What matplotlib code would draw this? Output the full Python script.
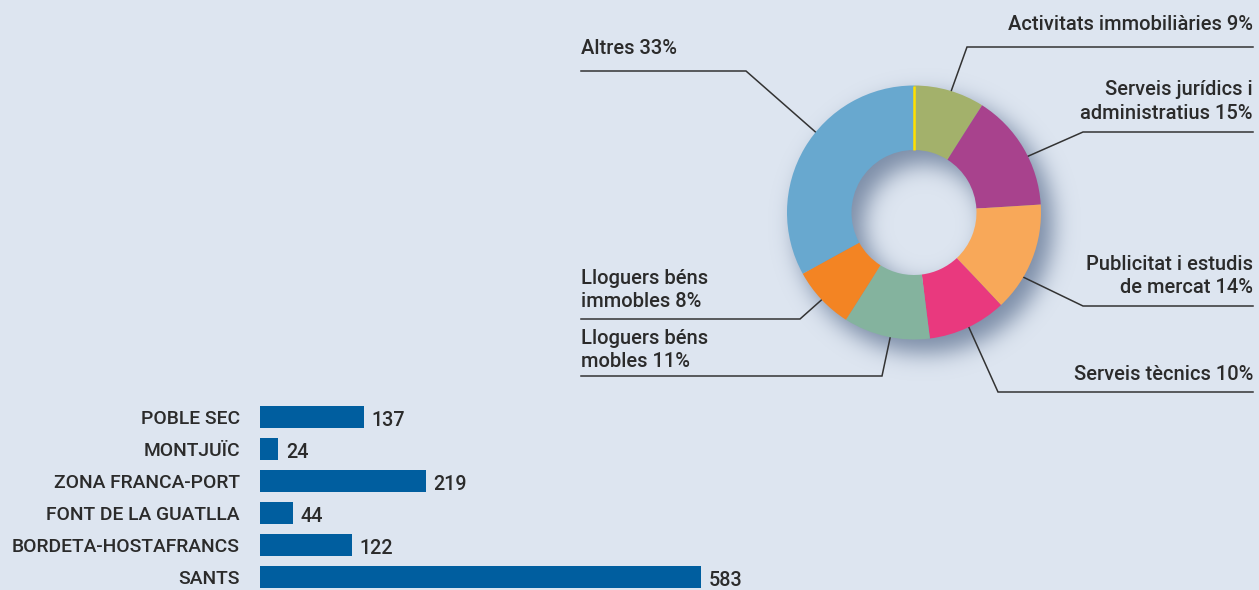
import numpy as np
import matplotlib
matplotlib.use('Agg')
import matplotlib.pyplot as plt

# donut data (clockwise from the top)
sectors = ['Activitats immobiliàries', 'Serveis jurídics i\nadministratius',
           'Publicitat i estudis\nde mercat', 'Serveis tècnics',
           'Lloguers béns\nmobles', 'Lloguers béns\nimmobles', 'Altres']
shares = [9, 15, 14, 10, 11, 8, 33]
sector_colors = ['#A3B16B', '#A8428D', '#F8A859', '#E9397E',
                 '#84B39E', '#F38423', '#68A8CF']

# bar data
barris = ['POBLE SEC', 'MONTJUÏC', 'ZONA FRANCA-PORT', 'FONT DE LA GUATLLA',
          'BORDETA-HOSTAFRANCS', 'SANTS']
counts = [137, 24, 219, 44, 122, 583]

BG = '#DDE5F0'
TXT = '#2B2B2B'
LINE = '#333333'
FONT = ['Roboto', 'DejaVu Sans']
plt.rcParams['font.family'] = FONT

W, H = 1259, 590
fig = plt.figure(figsize=(W / 100, H / 100), dpi=100)
fig.patch.set_facecolor(BG)

# overlay in pixel coordinates for leader lines, labels and shadow
ov = fig.add_axes([0, 0, 1, 1])
ov.set_facecolor('none')
ov.axis('off')

cx, cy, R, r_in = 914.0, 212.5, 127.0, 62.5

# soft drop shadow of the ring
pad = 70
xs = np.arange(cx - R - pad, cx + R + pad)
ys = np.arange(cy - R - pad, cy + R + pad)
gx, gy = np.meshgrid(xs, ys)
d = np.hypot(gx - (cx + 10), gy - (cy + 12))
mask = ((d <= R + 2) & (d >= r_in - 2)).astype(float)
sig = 11.0
k = np.arange(-36, 37)
ker = np.exp(-k ** 2 / (2 * sig ** 2))
ker /= ker.sum()
blur = np.apply_along_axis(lambda v: np.convolve(v, ker, mode='same'), 1, mask)
blur = np.apply_along_axis(lambda v: np.convolve(v, ker, mode='same'), 0, blur)
img = np.zeros(blur.shape + (4,))
img[..., 0], img[..., 1], img[..., 2] = 0.45, 0.52, 0.63
img[..., 3] = blur * 0.9
ov.imshow(img, extent=(xs[0], xs[-1] + 1, ys[-1] + 1, ys[0]), origin='upper',
          aspect='auto', interpolation='bilinear')
ov.set_xlim(0, W)
ov.set_ylim(H, 0)

# donut
pax = fig.add_axes([(cx - R) / W, (H - cy - R) / H, 2 * R / W, 2 * R / H])
pax.pie(shares, colors=sector_colors, startangle=90, counterclock=False,
        radius=1, wedgeprops=dict(width=1 - r_in / R, linewidth=0))
pax.plot([0, 0], [r_in / R, 1], color='#FFE000', lw=1.8, solid_capstyle='butt')
pax.set_xlim(-1, 1)
pax.set_ylim(-1, 1)
pax.set_aspect('equal')
pax.axis('off')

# label layout: (text x, text y, align, line y, elbow x, anchor angle, anchor radius)
layout = [
    (1253, 25, 'right', 47, 967, 73.2, 0.925),
    (1253, 101.5, 'right', 132, 1083, 26.4, 0.95),
    (1253, 276, 'right', 306, 1083, -30.8, 0.96),
    (1253, 375, 'right', 392, 998, -64.4, 0.965),
    (581, 350, 'left', 376, 882, -100.7, 0.93),
    (581, 290, 'left', 319, 800, -136.5, 0.94),
    (581, 48, 'left', 71, 746, 141.0, 0.89),
]
for name, pct, (tx, ty, ha, ly, ex, ang, rf) in zip(sectors, shares, layout):
    ov.text(tx, ty, f'{name} {pct}%', ha=ha, va='center', fontsize=14.5,
            color=TXT, fontweight='medium', linespacing=1.3)
    end = 1253 if ha == 'right' else 581
    a = np.radians(ang)
    axp = cx + R * rf * np.cos(a)
    ayp = cy - R * rf * np.sin(a)
    ov.plot([end, ex, axp], [ly, ly, ayp], color=LINE, lw=1.1,
            solid_joinstyle='miter')

# horizontal bars
px_per_unit = (701 - 260) / 583.0
xmax = 700
bax = fig.add_axes([260 / W, (H - 593) / H, xmax * px_per_unit / W, 192 / H])
bax.set_facecolor('none')
ypos = np.arange(len(barris))
bax.barh(ypos, counts, height=0.69, color='#005E9F')
bax.set_xlim(0, xmax)
bax.set_ylim(len(barris) - 0.5, -0.5)
bax.set_yticks(ypos)
bax.set_yticklabels(barris, fontsize=13.9, color=TXT, fontweight='medium')
bax.tick_params(axis='y', length=0, pad=14.4)
bax.set_xticks([])
for s in bax.spines.values():
    s.set_visible(False)
for i, v in enumerate(counts):
    bax.annotate(str(v), (v, i), xytext=(5.5, -2.2), textcoords='offset points',
                 va='center', ha='left', fontsize=14.2, color=TXT,
                 fontweight='medium')

fig.savefig('out.png', dpi=100, facecolor=BG)
